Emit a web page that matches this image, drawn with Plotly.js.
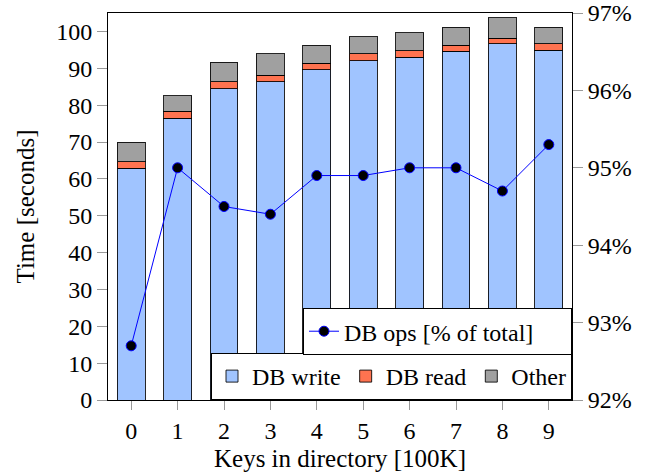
<!DOCTYPE html>
<html>
<head>
<meta charset="utf-8">
<script src="https://cdn.plot.ly/plotly-3.0.1.min.js"></script>
<style>html,body{margin:0;padding:0;background:#fff}#chart{width:651px;height:475px}</style>
</head>
<body>
<div id="chart"></div>
<script>
const keys = [0, 1, 2, 3, 4, 5, 6, 7, 8, 9];
const dbWrite = [62.9, 76.5, 84.5, 86.3, 89.6, 92.0, 93.0, 94.6, 96.6, 94.9];
const dbRead  = [1.8, 1.8, 1.8, 1.8, 1.8, 1.9, 1.8, 1.7, 1.6, 1.7];
const other   = [5.3, 4.2, 5.3, 5.8, 4.9, 4.7, 4.8, 4.9, 5.5, 4.6];
const dbOpsPct = [92.7, 95.0, 94.5, 94.4, 94.9, 94.9, 95.0, 95.0, 94.7, 95.3];
const leftTicks = [0, 10, 20, 30, 40, 50, 60, 70, 80, 90, 100];
const rightTicks = [92, 93, 94, 95, 96, 97];

const FONT = 'Liberation Serif';
const barLine = {color: 'rgba(0,0,0,0.85)', width: 1};

const traces = [
  {type: 'bar', name: 'DB write', x: keys, y: dbWrite, width: 0.6,
   marker: {color: '#a0c4ff', line: barLine}, legend: 'legend', hoverinfo: 'skip'},
  {type: 'bar', name: 'DB read', x: keys, y: dbRead, width: 0.6,
   marker: {color: '#ff7350', line: barLine}, legend: 'legend', hoverinfo: 'skip'},
  {type: 'bar', name: 'Other', x: keys, y: other, width: 0.6,
   marker: {color: '#a0a0a0', line: barLine}, legend: 'legend', hoverinfo: 'skip'},
  {type: 'scatter', mode: 'lines+markers', name: 'DB ops [% of total]', x: keys, y: dbOpsPct,
   yaxis: 'y2', line: {color: '#0000ff', width: 1},
   marker: {color: '#000000', size: 10, line: {color: '#0000ff', width: 1}},
   legend: 'legend2', hoverinfo: 'skip'}
];

const layout = {
  width: 651, height: 475,
  margin: {l: 108, r: 79, t: 13, b: 75, pad: 0},
  paper_bgcolor: '#fff', plot_bgcolor: '#fff',
  font: {family: FONT, size: 24, color: '#000'},
  barmode: 'stack',
  showlegend: true,
  xaxis: {
    range: [-0.5, 9.5], tickmode: 'array', tickvals: keys, ticktext: keys.map(String),
    showgrid: false, zeroline: false, showline: true, mirror: true, linecolor: '#000', linewidth: 1,
    ticks: 'outside', ticklen: 9, tickcolor: '#999', tickwidth: 1,
    title: {text: 'Keys in directory [100K]', font: {family: FONT, size: 25}, standoff: 6},
    fixedrange: true
  },
  yaxis: {
    range: [0, 105], tickmode: 'array', tickvals: leftTicks, ticktext: leftTicks.map(String),
    showgrid: false, zeroline: false, showline: true, linecolor: '#000', linewidth: 1,
    ticks: 'outside', ticklen: 10, tickcolor: '#999', tickwidth: 1,
    title: {text: 'Time [seconds]', font: {family: FONT, size: 25}, standoff: 14},
    fixedrange: true
  },
  yaxis2: {
    overlaying: 'y', side: 'right', range: [92, 97],
    tickmode: 'array', tickvals: rightTicks, ticktext: rightTicks.map(v => v + '%'),
    showgrid: false, zeroline: false, showline: true, linecolor: '#000', linewidth: 1,
    ticks: 'outside', ticklen: 10, tickcolor: '#999', tickwidth: 1,
    fixedrange: true
  },
  legend: {
    orientation: 'h', x: 1, xanchor: 'right', y: 0, yanchor: 'bottom',
    bgcolor: '#fff', bordercolor: '#000', borderwidth: 1,
    font: {family: FONT, size: 24},
    traceorder: 'normal', itemwidth: 30, tracegroupgap: 0
  },
  legend2: {
    orientation: 'h', x: 1, xanchor: 'right', y: 0.116, yanchor: 'bottom',
    bgcolor: '#fff', bordercolor: '#000', borderwidth: 1,
    font: {family: FONT, size: 24}, entrywidth: 222
  }
};

Plotly.newPlot('chart', traces, layout, {staticPlot: true, displayModeBar: false});
</script>
</body>
</html>
